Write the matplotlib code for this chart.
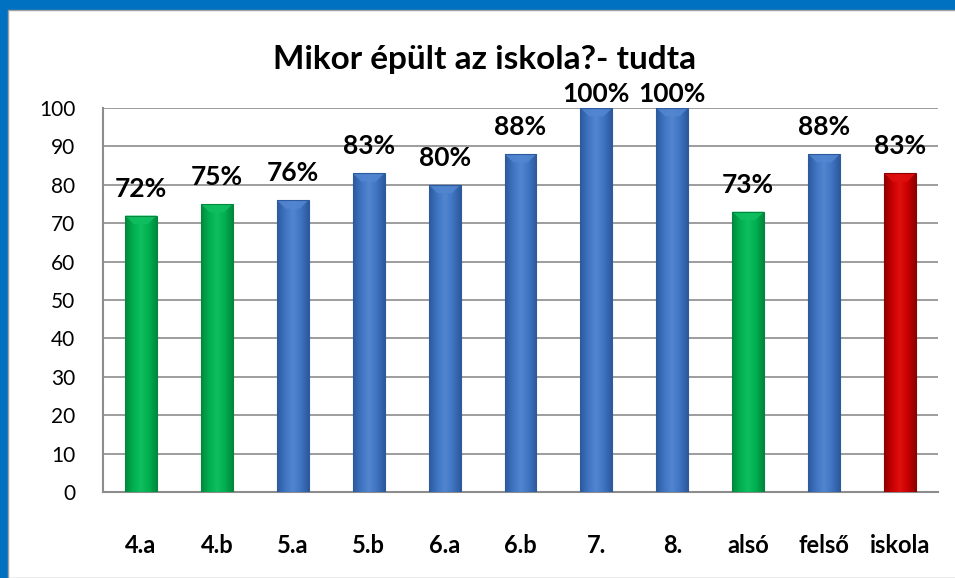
import numpy as np
import matplotlib.pyplot as plt
from matplotlib.colors import LinearSegmentedColormap
from matplotlib.patches import Rectangle, Polygon

categories = ["4.a", "4.b", "5.a", "5.b", "6.a", "6.b", "7.", "8.", "alsó", "felső", "iskola"]
values = [72, 75, 76, 83, 80, 88, 100, 100, 73, 88, 83]
labels = ["72%", "75%", "76%", "83%", "80%", "88%", "100%", "100%", "73%", "88%", "83%"]
groups = ["g", "g", "b", "b", "b", "b", "b", "b", "g", "b", "r"]

palette = {
    "g": ("#00883e", "#00b050", "#10c060"),
    "b": ("#2c5a9c", "#3f74c2", "#5286d0"),
    "r": ("#8e0000", "#c80000", "#e01010"),
}

plt.rcParams['font.family'] = ['Lato', 'DejaVu Sans']

fig = plt.figure(figsize=(9.55, 5.78), dpi=100)
fig.patch.set_facecolor("#0070c0")
# fehér panel a kék kereten belül
fig.patches.append(Rectangle((8 / 955, 0), 1, 1 - 10 / 578, transform=fig.transFigure,
                             facecolor="white", edgecolor="#a0a0a0", lw=1, zorder=-10))

ax = fig.add_axes([103 / 955, 1 - 492 / 578, 835 / 955, 384 / 578])
ax.set_facecolor("none")

x = np.arange(len(categories))
w = 0.42
bars = ax.bar(x, values, width=w, color="none", edgecolor="none", zorder=3)

grad = np.linspace(0, 1, 64)
for b, v, g in zip(bars, values, groups):
    dark, mid, light = palette[g]
    cmap = LinearSegmentedColormap.from_list("c", [dark, mid, light, mid, dark])
    x0 = b.get_x()
    im = ax.imshow(grad[None, :], cmap=cmap, aspect="auto",
                   extent=(x0, x0 + w, 0, v), zorder=3)
    im.set_clip_path(b)
    # ferde tető
    bev = 2.2
    ax.add_patch(Polygon([(x0, v), (x0 + w, v), (x0 + w * 0.72, v - bev), (x0 + w * 0.28, v - bev)],
                         closed=True, facecolor=light, alpha=0.85, edgecolor="none", zorder=4))
    ax.add_patch(Rectangle((x0, 0), w, v, facecolor="none", edgecolor=dark, lw=0.8, zorder=4))

for xi, v, t in zip(x, values, labels):
    ax.text(xi, min(v + 4.9, 101.6), t, ha="center", va="baseline",
            fontsize=19, fontweight="bold", zorder=5)

ax.set_xlim(-0.5, len(categories) - 0.5)
ax.set_ylim(0, 100)
ax.set_yticks(range(0, 101, 10))
ax.set_xticks(x)
ax.set_xticklabels(categories, fontsize=17, fontweight="bold")
ax.tick_params(axis="x", length=0, pad=30)
ax.tick_params(axis="y", length=0, pad=20, labelsize=15)
ax.yaxis.grid(True, color="#8c8c8c", lw=1.2)
ax.set_axisbelow(True)
for s in ["top", "right"]:
    ax.spines[s].set_visible(False)
for s in ["left", "bottom"]:
    ax.spines[s].set_color("#8c8c8c")
    ax.spines[s].set_linewidth(1.5)

fig.text(485 / 955, 1 - 60 / 578, "Mikor épült az iskola?- tudta", ha="center", va="center",
         fontsize=24, fontweight="bold")

fig.savefig("out.png", dpi=100, facecolor=fig.get_facecolor())
